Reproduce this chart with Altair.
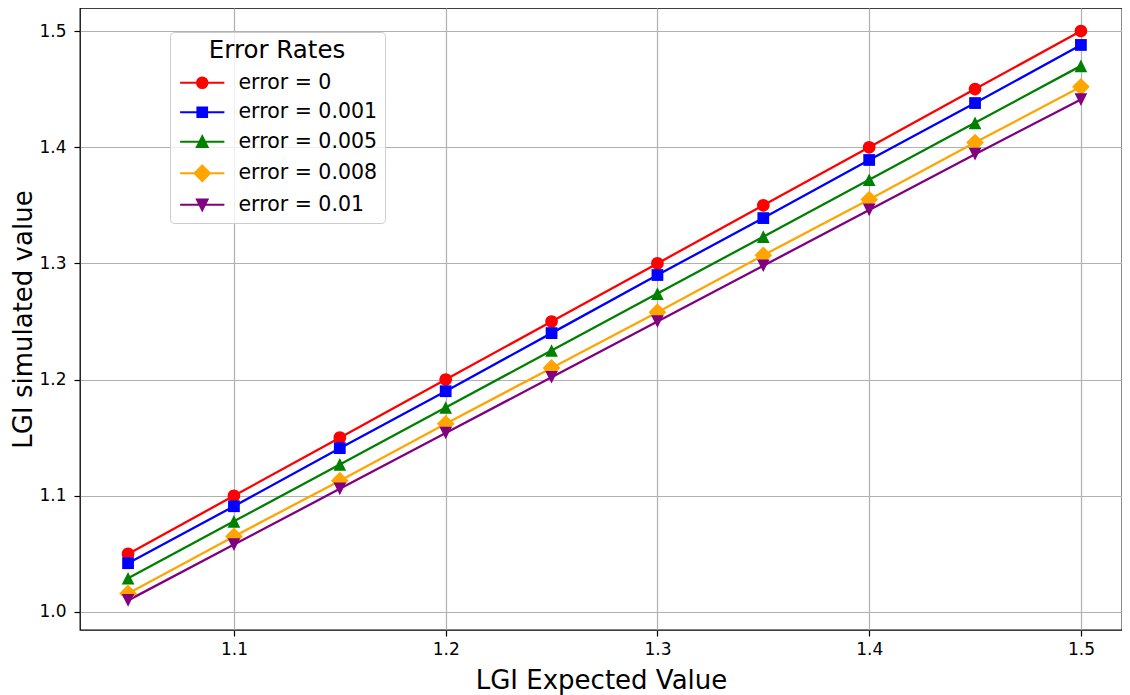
import altair as alt
import pandas as pd

# ---- data ----
x_vals = [1.05, 1.10, 1.15, 1.20, 1.25, 1.30, 1.35, 1.40, 1.45, 1.50]
series_names = ["error = 0", "error = 0.001", "error = 0.005", "error = 0.008", "error = 0.01"]
err_0 = [1.050, 1.100, 1.150, 1.200, 1.250, 1.300, 1.350, 1.400, 1.450, 1.500]
err_0001 = [1.042, 1.091, 1.141, 1.190, 1.240, 1.290, 1.339, 1.389, 1.438, 1.488]
err_0005 = [1.029, 1.078, 1.127, 1.176, 1.225, 1.274, 1.323, 1.372, 1.421, 1.470]
err_0008 = [1.016, 1.065, 1.113, 1.162, 1.210, 1.258, 1.307, 1.355, 1.404, 1.452]
err_001 = [1.010, 1.058, 1.106, 1.154, 1.202, 1.250, 1.298, 1.346, 1.394, 1.441]
x_ticks = [1.1, 1.2, 1.3, 1.4, 1.5]
y_ticks = [1.0, 1.1, 1.2, 1.3, 1.4, 1.5]

# ---- styles ----
colors = ["#ff0000", "#0000ff", "#008000", "#ffa500", "#800080"]
marker_paths = [
    "M1,0A1,1,0,1,1,-1,0A1,1,0,1,1,1,0Z",
    "M-0.93,-0.93H0.93V0.93H-0.93Z",
    "M0,-1L1,1H-1Z",
    "M0,-1.4L1.4,0L0,1.4L-1.4,0Z",
    "M0,1L1,-1H-1Z",
]
legend_paths = [
    "M-3.5,0H3.5M0.82,0A0.82,0.82,0,1,1,-0.82,0A0.82,0.82,0,1,1,0.82,0Z",
    "M-3.5,0H3.5M-0.75,-0.75H0.75V0.75H-0.75Z",
    "M-3.5,0H3.5M0,-0.82L0.82,0.82H-0.82Z",
    "M-3.5,0H3.5M0,-1.2L1.2,0L0,1.2L-1.2,0Z",
    "M-3.5,0H3.5M0,0.82L0.82,-0.82H-0.82Z",
]

all_series = [err_0, err_0001, err_0005, err_0008, err_001]
rows = []
for name, ys in zip(series_names, all_series):
    for xv, yv in zip(x_vals, ys):
        rows.append({"x": xv, "y": yv, "series": name})
df = pd.DataFrame(rows)

font = "DejaVu Sans"

x_enc = alt.X(
    "x:Q",
    scale=alt.Scale(domain=[1.0273, 1.5194], nice=False, zero=False),
    axis=alt.Axis(
        values=x_ticks, format=".1f", title="LGI Expected Value",
        titleFontSize=26, titleFontWeight="normal", titleColor="black", titleFont=font,
        titlePadding=10,
        labelFontSize=17, labelColor="black", labelFont=font, labelPadding=5,
        tickSize=6, tickColor="black", tickWidth=1.2,
        grid=True, gridColor="#b0b0b0", gridWidth=1.2, domain=False, labelFlush=False,
    ),
)
y_enc = alt.Y(
    "y:Q",
    scale=alt.Scale(domain=[0.9845, 1.5198], nice=False, zero=False),
    axis=alt.Axis(
        values=y_ticks, format=".1f", title="LGI simulated value",
        titleFontSize=26, titleFontWeight="normal", titleColor="black", titleFont=font,
        titlePadding=2,
        labelFontSize=17, labelColor="black", labelFont=font, labelPadding=8,
        tickSize=6, tickColor="black", tickWidth=1.2,
        grid=True, gridColor="#b0b0b0", gridWidth=1.2, domain=False, labelFlush=False,
    ),
)

color_scale = alt.Scale(domain=series_names, range=colors)


def make_legend():
    return alt.Legend(
        title="Error Rates", orient="none", legendX=90, legendY=24, direction="vertical",
        titleFontSize=24.5, titleFontWeight="normal", titleColor="black", titleFont=font,
        titleAnchor="middle", titlePadding=9,
        labelFontSize=20.5, labelColor="black", labelFont=font, labelOffset=26, labelLimit=400,
        symbolSize=160, symbolOffset=15, symbolStrokeWidth=2.2, symbolOpacity=1,
        rowPadding=8.5, padding=7,
        strokeColor="#cccccc", fillColor="rgba(255,255,255,0.8)", cornerRadius=4,
    )


lines = alt.Chart(df).mark_line(strokeWidth=2.3).encode(
    x=x_enc, y=y_enc,
    color=alt.Color("series:N", scale=color_scale, legend=None),
    detail="series:N",
)

points = alt.Chart(df).mark_point(filled=True, size=160, opacity=1, strokeWidth=0).encode(
    x=x_enc, y=y_enc,
    color=alt.Color("series:N", scale=color_scale, legend=None),
    shape=alt.Shape("series:N", scale=alt.Scale(domain=series_names, range=marker_paths), legend=None),
)

legend_layer = alt.Chart(df).transform_filter("false").mark_point(
    filled=True, size=160, opacity=1, strokeWidth=2.2
).encode(
    x=x_enc, y=y_enc,
    fill=alt.Fill("series:N", scale=alt.Scale(domain=series_names, range=colors), legend=make_legend()),
    stroke=alt.Stroke("series:N", scale=alt.Scale(domain=series_names, range=colors), legend=make_legend()),
    shape=alt.Shape("series:N", scale=alt.Scale(domain=series_names, range=legend_paths), legend=make_legend()),
)

chart = alt.layer(lines, points, legend_layer).resolve_scale(
    shape="independent", fill="independent", stroke="independent"
).resolve_legend(
    shape="independent", fill="independent", stroke="independent"
).properties(
    width=1042, height=622,
    padding={"left": 72, "top": 0, "right": 0, "bottom": 65},
    autosize=alt.AutoSizeParams(type="none"),
).configure(font=font).configure_view(stroke="black", strokeWidth=1.3)

chart.save("out.html", embed_options={"renderer": "svg", "actions": False})
